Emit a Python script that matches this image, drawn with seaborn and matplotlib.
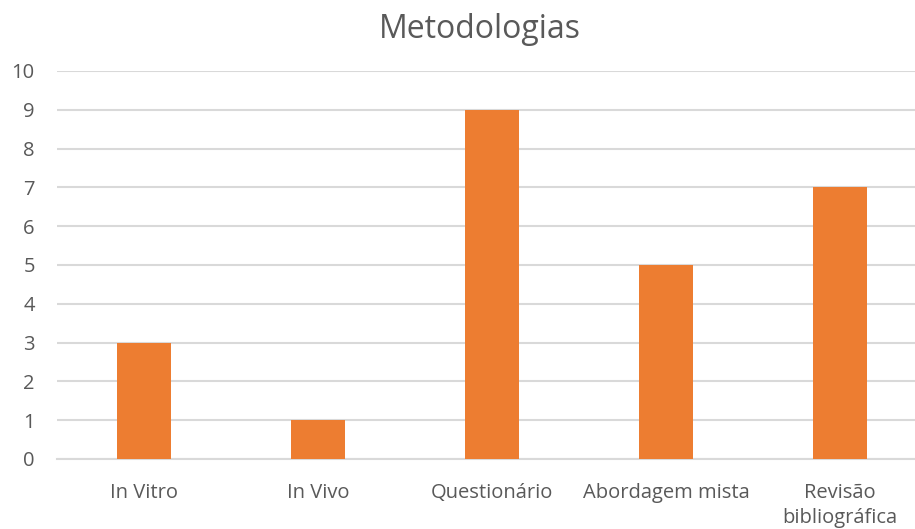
import matplotlib
matplotlib.use("Agg")
import matplotlib.pyplot as plt
import seaborn as sns
import pandas as pd

categories = ["In Vitro", "In Vivo", "Questionário", "Abordagem mista", "Revisão\nbibliográfica"]
values = [3, 1, 9, 5, 7]
yticks = list(range(0, 11))
title = "Metodologias"

sns.set_theme(style="white")
plt.rcParams['font.family'] = ['Open Sans', 'DejaVu Sans']

df = pd.DataFrame({"cat": categories, "val": values})

fig = plt.figure(figsize=(9.15, 5.29), dpi=100)
ax = fig.add_axes([57/915, 70/529, 870/915, 388/529])
sns.barplot(data=df, x="cat", y="val", color="#ED7D31", width=0.31, saturation=1,
            edgecolor="none", linewidth=0, ax=ax, zorder=3)

ax.set_ylim(0, 10)
ax.set_yticks(yticks)
ax.grid(axis="y", color="#D9D9D9", linewidth=1.5, zorder=0)
ax.set_axisbelow(True)
for s in ["top", "right", "left"]:
    ax.spines[s].set_visible(False)
ax.spines["bottom"].set_color("#D9D9D9")
ax.spines["bottom"].set_linewidth(1.5)
ax.tick_params(axis="both", length=0, colors="#595959", labelsize=14.5)
ax.tick_params(axis="x", pad=17)
ax.tick_params(axis="y", pad=16)
ax.set_xlabel("")
ax.set_ylabel("")
for lab in ax.get_xticklabels():
    lab.set_linespacing(1.35)
fig.text(480/915, 1 - 29/529, title, ha="center", va="center", fontsize=23, color="#595959")

fig.savefig("out.png", dpi=100, facecolor="white")
